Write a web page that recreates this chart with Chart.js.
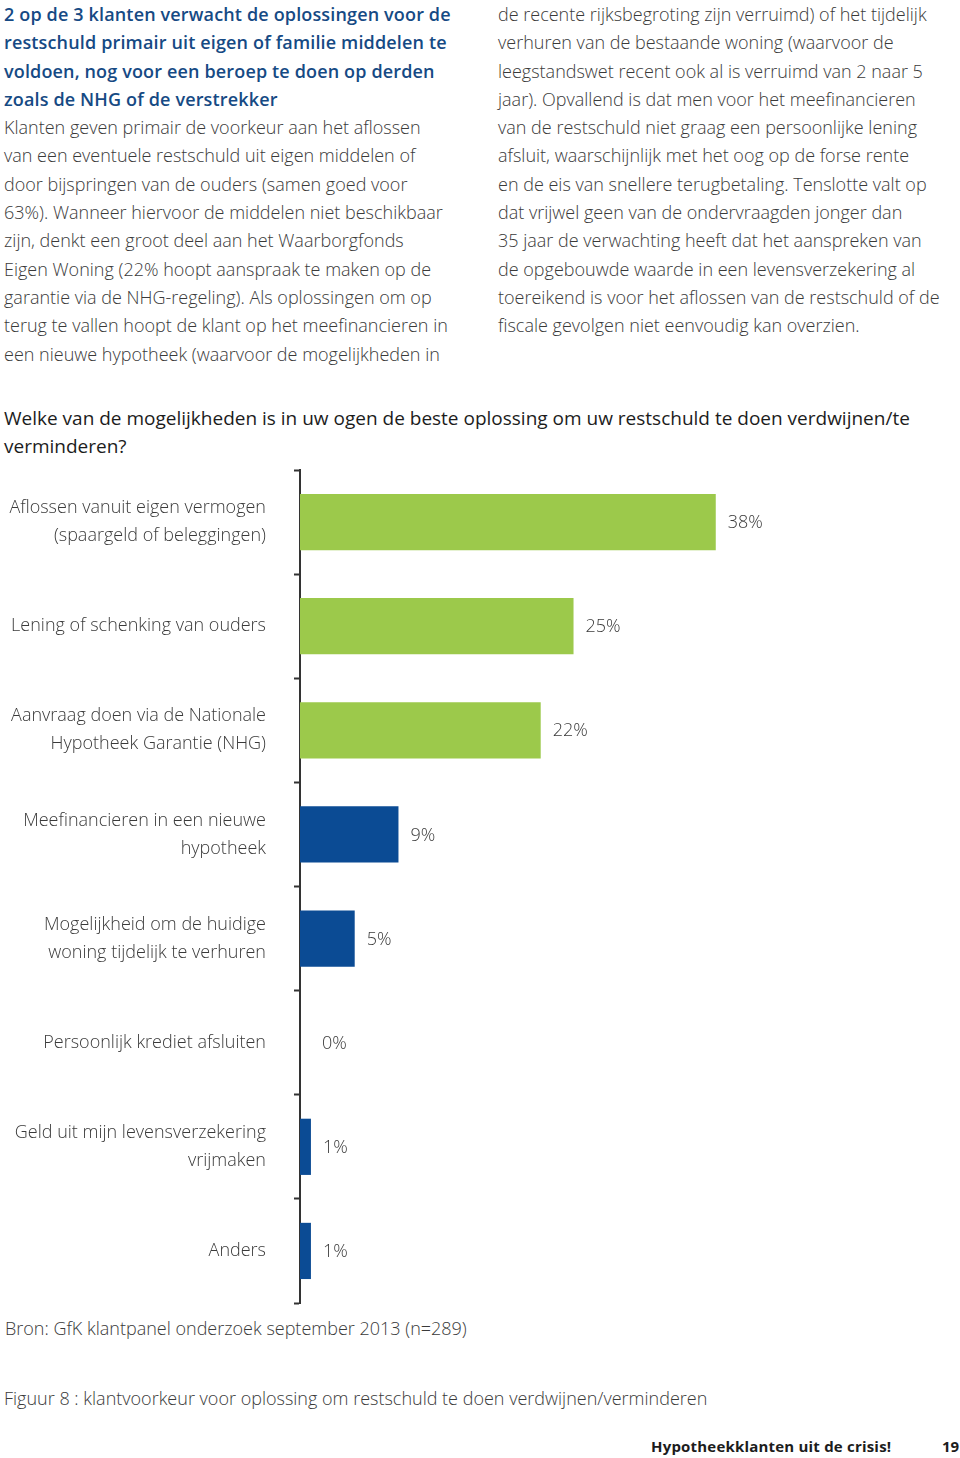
<!DOCTYPE html>
<html>
<head>
<meta charset="utf-8">
<script src="https://cdn.jsdelivr.net/npm/chart.js@4/dist/chart.umd.min.js"></script>
<style>
  html, body { margin: 0; padding: 0; background: #fff; }
  body { width: 960px; height: 1458px; position: relative; overflow: hidden;
         font-family: "Open Sans", "Noto Sans", sans-serif; color: #3a3a3a; }
  .col { position: absolute; top: 0; font-size: 18px; line-height: 28.3px; font-weight: 300; white-space: nowrap; }
  .lead { color: #164a84; font-weight: 600; letter-spacing: 0.15px; }
  #question { position: absolute; left: 4px; top: 404px; font-size: 19px; line-height: 28px; color: #1c1c1c; font-weight: 500; white-space: nowrap; }
  #chartWrap { position: absolute; left: 0; top: 460px; width: 960px; height: 850px; }
  .note { position: absolute; left: 5px; font-size: 18px; font-weight: 300; white-space: nowrap; }
  #footer { position: absolute; left: 651px; top: 1436px; font-size: 15px; font-weight: 700; color: #1c1c1c; white-space: nowrap; letter-spacing: 0.2px; }
  #pageNo { position: absolute; left: 942px; top: 1436px; font-size: 15px; font-weight: 700; color: #1c1c1c; }
</style>
</head>
<body>
<div class="col" style="left:4px">
  <span class="lead">2 op de 3 klanten verwacht de oplossingen voor de<br>
  restschuld primair uit eigen of familie middelen te<br>
  voldoen, nog voor een beroep te doen op derden<br>
  zoals de NHG of de verstrekker</span><br>
  Klanten geven primair de voorkeur aan het aflossen<br>
  van een eventuele restschuld uit eigen middelen of<br>
  door bijspringen van de ouders (samen goed voor<br>
  63%). Wanneer hiervoor de middelen niet beschikbaar<br>
  zijn, denkt een groot deel aan het Waarborgfonds<br>
  Eigen Woning (22% hoopt aanspraak te maken op de<br>
  garantie via de NHG-regeling). Als oplossingen om op<br>
  terug te vallen hoopt de klant op het meefinancieren in<br>
  een nieuwe hypotheek (waarvoor de mogelijkheden in
</div>
<div class="col" style="left:498px">
  de recente rijksbegroting zijn verruimd) of het tijdelijk<br>
  verhuren van de bestaande woning (waarvoor de<br>
  leegstandswet recent ook al is verruimd van 2 naar 5<br>
  jaar). Opvallend is dat men voor het meefinancieren<br>
  van de restschuld niet graag een persoonlijke lening<br>
  afsluit, waarschijnlijk met het oog op de forse rente<br>
  en de eis van snellere terugbetaling. Tenslotte valt op<br>
  dat vrijwel geen van de ondervraagden jonger dan<br>
  35 jaar de verwachting heeft dat het aanspreken van<br>
  de opgebouwde waarde in een levensverzekering al<br>
  toereikend is voor het aflossen van de restschuld of de<br>
  fiscale gevolgen niet eenvoudig kan overzien.
</div>

<div id="question">Welke van de mogelijkheden is in uw ogen de beste oplossing om uw restschuld te doen verdwijnen/te<br>verminderen?</div>

<div id="chartWrap"><canvas id="restschuldChart"></canvas></div>

<div class="note" style="top:1316px">Bron: GfK klantpanel onderzoek september 2013 (n=289)</div>
<div class="note" style="top:1386px; left:4px">Figuur 8 : klantvoorkeur voor oplossing om restschuld te doen verdwijnen/verminderen</div>

<div id="footer">Hypotheekklanten uit de crisis!</div>
<div id="pageNo">19</div>

<script>
  // categories (multi-line labels as in the original)
  const optionLabels = [
    ['Aflossen vanuit eigen vermogen', '(spaargeld of beleggingen)'],
    'Lening of schenking van ouders',
    ['Aanvraag doen via de Nationale', 'Hypotheek Garantie (NHG)'],
    ['Meefinancieren in een nieuwe', 'hypotheek'],
    ['Mogelijkheid om de huidige', 'woning tijdelijk te verhuren'],
    'Persoonlijk krediet afsluiten',
    ['Geld uit mijn levensverzekering', 'vrijmaken'],
    'Anders'
  ];
  // share of respondents, %
  const shares = [38, 25, 22, 9, 5, 0, 1, 1];
  const GREEN = '#9cc94b';
  const BLUE = '#0b4b94';
  const barColors = shares.map((v, i) => i < 3 ? GREEN : BLUE);

  // ---- percentage labels right of each bar
  const valueLabels = {
    id: 'valueLabels',
    afterDatasetsDraw(chart) {
      const { ctx } = chart;
      const meta = chart.getDatasetMeta(0);
      const x0 = chart.scales.x.getPixelForValue(0);
      ctx.save();
      ctx.font = '300 18px "Open Sans", "Noto Sans", sans-serif';
      ctx.fillStyle = '#3a3a3a';
      ctx.textBaseline = 'middle';
      meta.data.forEach((bar, i) => {
        const x = Math.max(bar.x + 12, x0 + 22);
        ctx.fillText(shares[i] + '%', x, bar.y + 1);
      });
      ctx.restore();
    }
  };

  const ctx = document.getElementById('restschuldChart').getContext('2d');
  new Chart(ctx, {
    type: 'bar',
    data: {
      labels: optionLabels,
      datasets: [{ data: shares, backgroundColor: barColors, borderWidth: 0,
                   barPercentage: 0.54, categoryPercentage: 1 }]
    },
    options: {
      indexAxis: 'y',
      responsive: true, maintainAspectRatio: false,
      animation: false,
      layout: { padding: { top: 10, bottom: 7, left: 0, right: 9 } },
      scales: {
        x: { display: false, min: 0, max: 59.5 },
        y: {
          afterFit: s => { s.width = 300; s.paddingTop = 0; s.paddingBottom = 0; },
          border: { display: true, color: '#333', width: 2 },
          grid: { display: true, drawOnChartArea: false, drawTicks: true, tickLength: 6,
                  tickWidth: 2, color: '#333', offset: true },
          ticks: { color: '#3a3a3a', padding: 28, autoSkip: false,
                   font: { family: '"Open Sans", "Noto Sans", sans-serif', size: 18, weight: 300, lineHeight: 1.56 } }
        }
      },
      plugins: { legend: { display: false }, tooltip: { enabled: false } }
    },
    plugins: [valueLabels]
  });
</script>
</body>
</html>
